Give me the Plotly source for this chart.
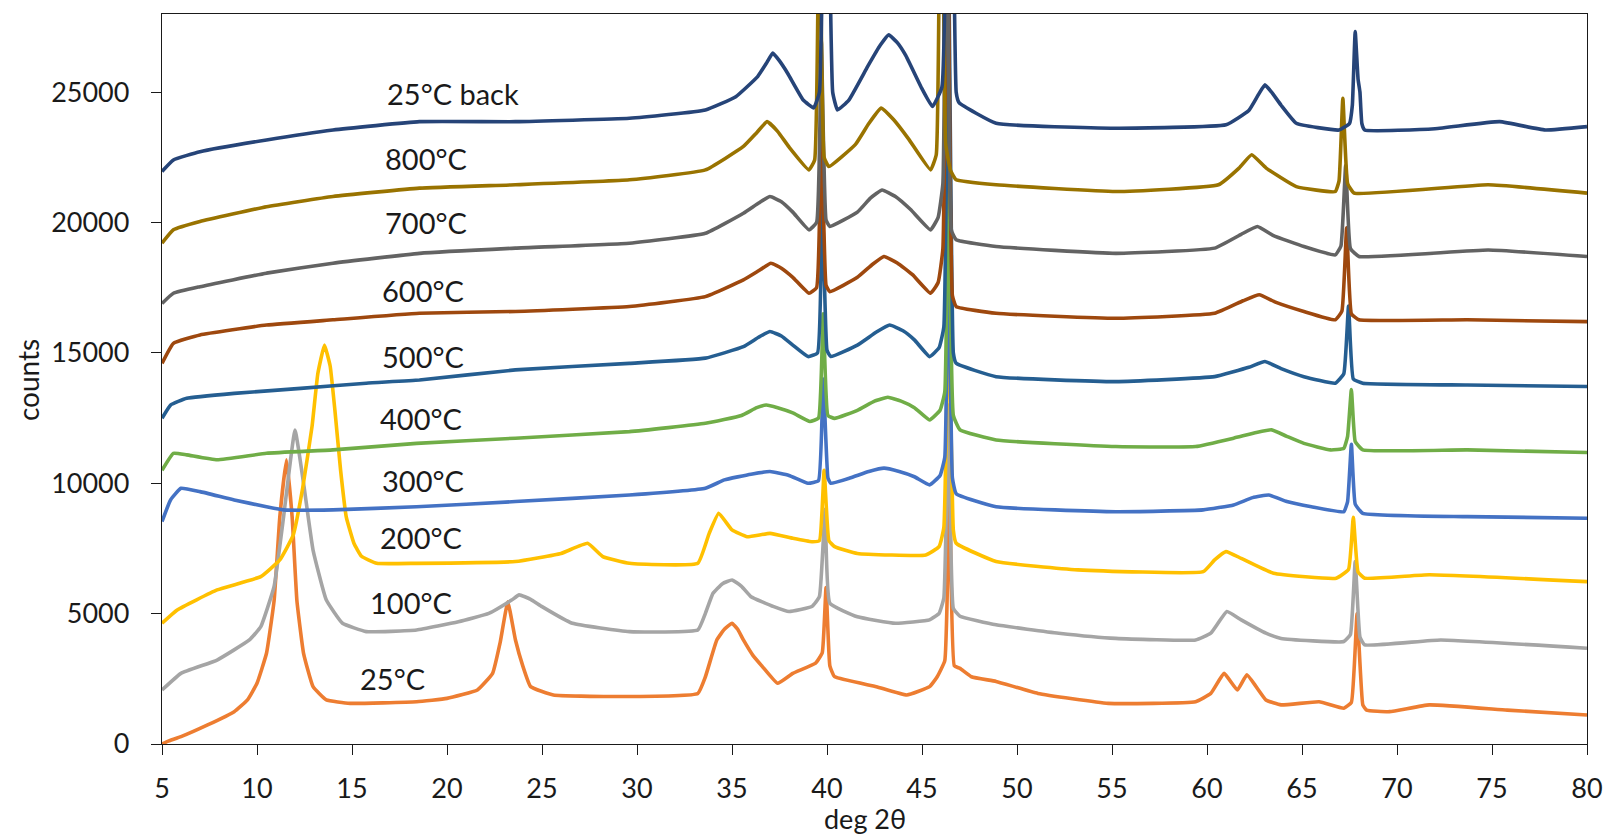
import plotly.graph_objects as go

# ---------------- data (counts vs deg 2theta) ----------------
x_25 = [5.0, 5.3, 6.0, 7.4, 8.8, 9.5, 10.0, 10.5, 10.9, 11.2, 11.55, 11.85, 12.1, 12.45, 12.95, 13.65, 14.9, 18.4,
        20.0, 21.6, 22.4, 22.8, 23.2, 23.6, 24.0, 24.4, 25.6, 28.6, 33.2, 33.6, 34.2, 34.6, 35.0, 35.3, 35.6, 36.1,
        36.6, 37.4, 38.2, 39.4, 39.75, 39.95, 40.15, 40.4, 42.6, 44.2, 45.4, 45.8, 46.2, 46.45, 46.7, 47.0, 47.6,
        48.9, 51.1, 54.8, 59.4, 60.2, 60.9, 61.6, 62.1, 63.1, 63.9, 65.9, 67.2, 67.6, 67.9, 68.2, 68.4, 69.6, 71.7,
        75.8, 80.0]
y_25 = [0, 100, 280, 730, 1240, 1690, 2330, 3480, 5500, 8700, 10900, 8700, 5500, 3480, 2200, 1690, 1560, 1620,
        1750, 2070, 2710, 3900, 5450, 4000, 2970, 2200, 1880, 1820, 1940, 2580, 3990, 4400, 4630, 4400, 3990, 3400,
        2970, 2330, 2710, 3100, 3500, 6000, 3000, 2580, 2200, 1880, 2200, 2580, 3200, 10000, 3000, 2900, 2580,
        2400, 1940, 1560, 1620, 1940, 2710, 2070, 2650, 1690, 1500, 1620, 1370, 1600, 5000, 1500, 1300, 1240, 1500,
        1300, 1110]

x_100 = [5.0, 6.0, 7.9, 9.6, 10.2, 10.9, 11.4, 12.0, 12.45, 12.95, 13.65, 14.5, 15.75, 18.4, 20.6, 22.2, 23.4, 23.8,
         24.4, 25.0, 26.6, 29.6, 33.2, 33.6, 34.0, 34.5, 35.0, 35.5, 36.0, 37.2, 38.0, 39.2, 39.6, 39.9, 40.15,
         41.6, 43.6, 45.4, 45.9, 46.15, 46.4, 46.65, 47.0, 48.9, 52.2, 55.2, 59.4, 60.2, 61.05, 61.8, 63.1, 63.9,
         67.2, 67.55, 67.8, 68.05, 68.3, 72.3, 80.0]
y_100 = [2070, 2710, 3220, 3990, 4500, 6040, 8720, 12040, 10000, 7440, 5520, 4630, 4310, 4370, 4690, 5010, 5520, 5720,
         5550, 5270, 4630, 4310, 4370, 5010, 5780, 6150, 6290, 6050, 5650, 5270, 5080, 5270, 5650, 9000, 5400,
         4880, 4630, 4760, 5010, 5600, 13000, 5200, 4900, 4570, 4250, 4050, 3990, 4250, 5080, 4760, 4250, 4050,
         3930, 4200, 7000, 4100, 3800, 3990, 3670]

x_200 = [5.0, 5.8, 7.9, 10.2, 11.2, 11.9, 12.4, 12.9, 13.2, 13.55, 13.85, 14.1, 14.4, 14.7, 15.1, 15.5, 16.3, 18.4,
         23.6, 26.0, 27.4, 28.2, 29.6, 33.2, 33.8, 34.3, 35.0, 35.8, 37.0, 38.2, 39.2, 39.6, 39.85, 40.1, 40.4,
         41.6, 45.2, 45.9, 46.15, 46.4, 46.65, 46.8, 48.9, 53.2, 59.8, 60.4, 61.0, 61.8, 63.5, 66.8, 67.45, 67.7,
         67.95, 68.3, 71.7, 80.0]
y_200 = [4630, 5140, 5910, 6420, 7060, 8000, 9800, 12200, 14200, 15300, 14500, 12800, 10500, 8700, 7700, 7200, 6930,
         6930, 7000, 7310, 7700, 7190, 6930, 6930, 8080, 8850, 8210, 7950, 8080, 7890, 7760, 7800, 10500, 7800,
         7570, 7310, 7250, 7570, 8300, 17000, 8200, 7700, 7000, 6680, 6610, 7060, 7380, 7120, 6550, 6360, 6700,
         8700, 6600, 6360, 6490, 6230]

x_300 = [5.0, 5.45, 6.0, 7.0, 8.8, 10.5, 11.4, 14.0, 18.4, 23.6, 29.6, 33.6, 34.6, 36.0, 37.0, 38.0, 39.0, 39.55,
         39.8, 40.05, 40.2, 41.2, 42.2, 43.0, 43.8, 44.6, 45.4, 45.95, 46.2, 46.4, 46.6, 46.8, 48.9, 55.2, 59.8,
         61.4, 62.4, 63.25, 64.2, 65.5, 67.2, 67.4, 67.6, 67.8, 68.2, 73.7, 80.0]
y_300 = [8530, 9360, 9810, 9680, 9360, 9100, 8980, 8980, 9100, 9300, 9550, 9810, 10130, 10350, 10450, 10300, 10000,
         10100, 14000, 10200, 10000, 10200, 10450, 10580, 10450, 10250, 9940, 10300, 11000, 20000, 10200, 9600,
         9100, 8910, 8980, 9170, 9450, 9550, 9300, 9100, 8910, 9300, 11500, 9200, 8850, 8720, 8660]

x_400 = [5.0, 5.6, 6.3, 7.9, 10.5, 14.0, 18.4, 23.6, 29.6, 33.6, 35.5, 36.3, 36.8, 37.4, 38.2, 39.1, 39.55, 39.8,
         40.05, 40.4, 41.6, 42.5, 43.2, 43.9, 44.6, 45.4, 45.95, 46.2, 46.4, 46.65, 47.0, 48.9, 55.2, 59.4, 61.4,
         62.6, 63.4, 64.2, 65.1, 66.5, 67.2, 67.4, 67.6, 67.8, 68.2, 73.7, 80.0]
y_400 = [10500, 11150, 11090, 10900, 11150, 11280, 11530, 11730, 11980, 12300, 12600, 12900, 13000, 12900, 12700,
         12370, 12500, 16500, 12600, 12490, 12800, 13150, 13300, 13150, 12900, 12430, 12800, 13500, 23000, 12600,
         12050, 11660, 11410, 11410, 11730, 11950, 12050, 11800, 11530, 11280, 11340, 11800, 13600, 11600, 11280,
         11280, 11180]

x_500 = [5.0, 5.45, 6.3, 8.8, 12.3, 15.75, 18.55, 23.6, 29.6, 33.6, 35.6, 36.4, 37.0, 37.6, 38.2, 39.0, 39.5, 39.75,
         40.0, 40.2, 41.6, 42.6, 43.3, 44.0, 44.6, 45.4, 45.9, 46.15, 46.4, 46.65, 46.8, 48.9, 55.2, 60.4, 62.2,
         63.05, 63.9, 65.1, 66.75, 67.2, 67.45, 67.7, 68.2, 73.7, 80.0]
y_500 = [12490, 13000, 13260, 13450, 13640, 13840, 13960, 14350, 14600, 14800, 15240, 15600, 15820, 15650, 15300,
         14860, 15000, 21000, 15100, 14860, 15300, 15800, 16070, 15850, 15500, 14860, 15200, 16000, 30000, 15000,
         14600, 14090, 13900, 14090, 14450, 14670, 14400, 14090, 13840, 14200, 16800, 14000, 13840, 13770, 13710]

x_600 = [5.0, 5.6, 7.0, 10.5, 14.0, 18.55, 23.6, 29.6, 33.6, 35.6, 36.4, 37.05, 37.6, 38.2, 39.05, 39.45, 39.7,
         39.95, 40.15, 41.6, 42.4, 43.0, 43.7, 44.5, 45.45, 45.85, 46.1, 46.35, 46.6, 46.8, 48.9, 55.2, 60.4, 61.9,
         62.75, 63.6, 65.1, 66.75, 67.1, 67.35, 67.6, 68.0, 73.7, 80.0]
y_600 = [14600, 15370, 15690, 16070, 16270, 16520, 16590, 16780, 17160, 17800, 18150, 18440, 18250, 17900, 17290,
         17500, 24000, 17600, 17350, 17900, 18400, 18700, 18450, 18000, 17290, 17700, 19000, 33000, 17200, 16780,
         16520, 16330, 16520, 17000, 17230, 16950, 16590, 16270, 16600, 19800, 16500, 16270, 16270, 16200]

x_700 = [5.0, 5.6, 7.0, 10.5, 14.0, 18.55, 23.6, 29.6, 33.6, 35.6, 36.4, 37.0, 37.6, 38.2, 39.05, 39.45, 39.7,
         39.95, 40.15, 41.6, 42.3, 42.9, 43.6, 44.4, 45.45, 45.85, 46.1, 46.3, 46.55, 46.8, 48.9, 55.2, 60.4, 61.8,
         62.65, 63.5, 65.1, 66.75, 67.05, 67.3, 67.55, 68.0, 74.8, 80.0]
y_700 = [16900, 17290, 17540, 18060, 18440, 18820, 19020, 19210, 19590, 20360, 20750, 21000, 20800, 20400, 19720,
         20000, 27000, 20100, 19850, 20400, 20950, 21250, 21000, 20500, 19720, 20200, 21500, 36000, 19700, 19340,
         19080, 18820, 19020, 19550, 19850, 19500, 19080, 18760, 19100, 22200, 19000, 18700, 18950, 18700]

x_800 = [5.0, 5.6, 7.0, 10.5, 14.0, 18.55, 23.6, 29.6, 33.6, 35.6, 36.3, 36.85, 37.4, 38.0, 39.05, 39.35, 39.6,
         39.85, 40.1, 41.5, 42.2, 42.85, 43.5, 44.3, 45.45, 45.75, 46.0, 46.25, 46.5, 46.8, 48.9, 55.2, 60.6, 61.7,
         62.35, 63.1, 64.7, 66.75, 66.95, 67.15, 67.4, 67.75, 74.8, 80.0]
y_800 = [19210, 19720, 20040, 20610, 21000, 21320, 21450, 21640, 22020, 22920, 23450, 23870, 23500, 22900, 22020,
         22400, 34000, 22500, 22150, 23000, 23800, 24390, 23950, 23200, 22020, 22600, 40000, 23000, 22000, 21640,
         21450, 21190, 21450, 22100, 22600, 22100, 21380, 21190, 21600, 24770, 21500, 21130, 21450, 21130]

x_back = [5.0, 5.6, 7.0, 10.5, 14.0, 18.55, 23.6, 29.6, 33.6, 35.2, 36.35, 36.8, 37.15, 37.5, 37.95, 38.75, 39.3,
          39.6, 39.95, 40.3, 40.55, 41.15, 42.15, 42.8, 43.25, 43.7, 44.15, 44.95, 45.55, 46.05, 46.45, 46.8, 46.95,
          48.9, 55.2, 61.0, 62.2, 62.7, 63.05, 63.4, 63.9, 64.7, 66.95, 67.5, 67.65, 67.8, 67.95, 68.05, 68.15, 68.3,
          72.0, 75.4, 77.8, 80.0]
y_back = [21960, 22400, 22720, 23170, 23550, 23870, 23870, 24000, 24320, 24830, 25600, 26100, 26500, 26200, 25700,
          24700, 24400, 25000, 40000, 25000, 24320, 24700, 26000, 26800, 27200, 26900, 26400, 25200, 24450, 25200,
          45000, 25000, 24600, 23810, 23620, 23750, 24300, 24900, 25280, 25000, 24500, 23810, 23550, 23800, 24500,
          27330, 25500, 25000, 23800, 23550, 23600, 23870, 23550, 23680]

series_names = ["25°C", "100°C", "200°C", "300°C", "400°C", "500°C", "600°C", "700°C", "800°C", "25°C back"]
series_x = [x_25, x_100, x_200, x_300, x_400, x_500, x_600, x_700, x_800, x_back]
series_y = [y_25, y_100, y_200, y_300, y_400, y_500, y_600, y_700, y_800, y_back]

x_ticks = [5, 10, 15, 20, 25, 30, 35, 40, 45, 50, 55, 60, 65, 70, 75, 80]
y_ticks = [0, 5000, 10000, 15000, 20000, 25000]

# ---------------- styling ----------------
colors = ["#ED7D31", "#A5A5A5", "#FFC000", "#4472C4", "#70AD47",
          "#255E91", "#9E480E", "#636363", "#997300", "#264478"]
label_pos = [(15.29, 2530), (15.83, 5410), (16.37, 7930), (16.48, 10100), (16.37, 12500),
             (16.48, 14870), (16.48, 17390), (16.64, 20000), (16.64, 22440), (16.75, 24960)]
FONT = "Lato, 'Open Sans', sans-serif"
TXT = "#1a1a1a"

fig = go.Figure()
for name, xs, ys, c in zip(series_names, series_x, series_y, colors):
    fig.add_trace(go.Scatter(x=xs, y=ys, mode="lines", name=name,
                             line=dict(color=c, width=3.6, shape="spline", smoothing=0.35),
                             showlegend=False))

annotations = []
for name, (lx, ly) in zip(series_names, label_pos):
    annotations.append(dict(x=lx, y=ly, xref="x", yref="y", text=name, showarrow=False,
                            xanchor="left", yanchor="middle",
                            font=dict(family=FONT, size=29, color=TXT)))
annotations.append(dict(x=0.4933, y=-0.1027, xref="paper", yref="paper", text="deg 2θ",
                        showarrow=False, xanchor="center", yanchor="middle",
                        font=dict(family=FONT, size=27, color=TXT)))
annotations.append(dict(x=-0.094, y=0.4986, xref="paper", yref="paper", text="counts",
                        showarrow=False, xanchor="center", yanchor="middle", textangle=-90,
                        font=dict(family=FONT, size=28, color=TXT)))

fig.update_layout(
    width=1611, height=835,
    margin=dict(l=162, r=24, t=14, b=91),
    paper_bgcolor="white", plot_bgcolor="white",
    annotations=annotations,
    xaxis=dict(range=[5, 80], tickvals=x_ticks, ticks="outside", ticklen=10, tickcolor=TXT,
               showline=True, linecolor=TXT, linewidth=1.3, mirror=True, automargin=False,
               showgrid=False, zeroline=False, ticklabelstandoff=10,
               tickfont=dict(family=FONT, size=27, color=TXT)),
    yaxis=dict(range=[0, 28000], tickvals=y_ticks, tickformat="d", ticks="outside", ticklen=10,
               tickcolor=TXT, showline=True, linecolor=TXT, linewidth=1.3, mirror=True, automargin=False,
               showgrid=False, zeroline=False, ticklabelstandoff=16,
               tickfont=dict(family=FONT, size=27, color=TXT)),
)

# remove the default 8px page margin so the 1611x835 figure fills the window exactly
fig.write_html("out.html", config={"displayModeBar": False},
               post_script="document.body.style.margin='0';document.body.style.overflow='hidden';")
